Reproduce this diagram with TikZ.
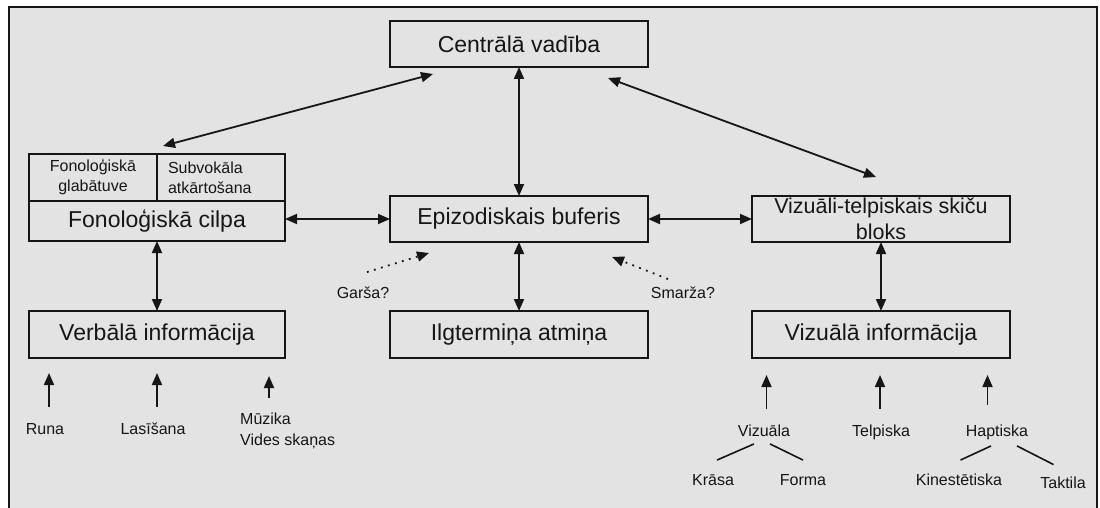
\documentclass[tikz,border=0pt]{standalone}
\usepackage{xcolor}
\usepackage{tikz}
\usepackage{fontspec}
\setmainfont{Liberation Sans}
\usetikzlibrary{
arrows.meta,
positioning
}
\definecolor{panel}{HTML}{E3E3E3}
\definecolor{ink}{HTML}{161616}

\begin{document}
\begin{tikzpicture}[
x=1pt, y=-1pt,
box/.style={
rectangle,
draw=ink,
line width=2pt,
outer sep=0pt,
minimum width=258pt,
minimum height=46pt,
text=ink,
font=\fontsize{23}{27.6}\selectfont
},
cell/.style={
rectangle,
draw=ink,
line width=2pt,
outer sep=0pt,
text width=106pt,
inner xsep=11pt,
inner ysep=0pt,
minimum height=47pt,
text=ink,
font=\fontsize{16}{20}\selectfont
},
lbl/.style={
inner sep=2pt,
text height=12pt,
text depth=3.5pt,
text=ink,
font=\fontsize{16}{20}\selectfont
},
biarrow/.style={{Triangle[length=12pt,width=10pt]}-{Triangle[length=12pt,width=10pt]},line width=1.8pt,draw=ink},
uparrow/.style={-{Triangle[length=12pt,width=10pt]},line width=1.8pt,draw=ink},
dotarrow/.style={-{Triangle[length=12pt,width=10pt]},line width=1.8pt,draw=ink,dash pattern=on 1.8pt off 5.5pt},
branch/.style={line width=1.6pt,draw=ink}
]

% panel
\useasboundingbox (0,0) rectangle (1100,508);
\fill[white] (0,0) rectangle (1100,508);
\draw[line width=2pt, draw=ink, fill=panel] (9,7) rectangle (1097,512);

% main boxes
\node[box] (central) at (519,44) {Centrālā vadība};
\node[box] (epiz) at (519,219) {Epizodiskais buferis};
\node[box, minimum height=47pt] (ilgt) at (519,334.5) {Ilgtermiņa atmiņa};

\node[box, minimum width=256pt, minimum height=40pt] (fonol) at (157,221) {Fonoloģiskā cilpa};
\node[cell, align=center, above right=0pt and 0pt of fonol.north west] (fonStore) {Fonoloģiskā\\glabātuve};
\node[cell, align=left, right=0pt of fonStore] (fonRehearse) {Subvokāla\\atkārtošana};
\node[box, minimum width=256pt, minimum height=47pt] (verbal) at (157,334.5) {Verbālā informācija};

\node[box] (sketch) at (881,219) {};
\node[text=ink, align=center, font=\fontsize{21.5}{26}\selectfont] (sketchText) at (sketch.center) {Vizuāli-telpiskais skiču\\bloks};
\node[box, minimum height=47pt] (visinfo) at (881,334.5) {Vizuālā informācija};

% links between boxes
\draw[biarrow] (central.south) -- (epiz.north);
\draw[biarrow] (epiz.south) -- (ilgt.north);
\draw[biarrow] (fonol.east |- epiz.west) -- (epiz.west);
\draw[biarrow] (epiz.east) -- (sketch.west);
\draw[biarrow] (fonol.south) -- (verbal.north);
\draw[biarrow] (sketch.south) -- (visinfo.north);
\draw[biarrow] ([shift={(43,7)}]central.south west) -- ([shift={(6,-8)}]fonRehearse.north west);
\draw[biarrow] ([shift={(-40,11)}]central.south east) -- ([shift={(-5,-19)}]sketch.north);

% other senses
\node[lbl] (garsa) at (363,294) {Garša?};
\node[lbl] (smarza) at (683,294) {Smarža?};
\draw[dotarrow] ([shift={(4,-12)}]garsa.north) -- ([shift={(39,11)}]epiz.south west);
\draw[dotarrow] ([shift={(-15,-5)}]smarza.north) -- ([shift={(-36,15)}]epiz.south east);

% verbal inputs
\node[lbl] (runa) at (45,430) {Runa};
\node[lbl] (lasisana) at (153,430) {Lasīšana};
\node[text=ink, align=left, anchor=north west, inner sep=2pt, font=\fontsize{16}{21}\selectfont] (muzika) at (238,411) {Mūzika\\Vides skaņas};
\coordinate (runaIn) at (49,373);
\coordinate (lasisanaIn) at (157,373);
\coordinate (muzikaIn) at (269,376);
\draw[uparrow, shorten <=13pt] (runa.north -| runaIn) -- (runaIn);
\draw[uparrow, shorten <=13pt] (lasisana.north -| lasisanaIn) -- (lasisanaIn);
\draw[uparrow, shorten <=13pt] (muzika.north -| muzikaIn) -- (muzikaIn);

% visual inputs
\node[lbl] (vizuala) at (764,432) {Vizuāla};
\node[lbl] (telpiska) at (881,432) {Telpiska};
\node[lbl] (haptiska) at (997,432) {Haptiska};
\node[lbl] (krasa) at (713,481) {Krāsa};
\node[lbl] (forma) at (803,481) {Forma};
\node[lbl] (kinest) at (959,481) {Kinestētiska};
\node[lbl] (taktila) at (1063,484.5) {Taktila};
\coordinate (vizualaIn) at (766.5,375);
\coordinate (telpiskaIn) at (880,375);
\coordinate (haptiskaIn) at (987.5,375);
\draw[uparrow, shorten <=13pt] (vizuala.north -| vizualaIn) -- (vizualaIn);
\draw[uparrow, shorten <=13pt] (telpiska.north -| telpiskaIn) -- (telpiskaIn);
\draw[uparrow, shorten <=17pt] (haptiska.north -| haptiskaIn) -- (haptiskaIn);

\draw[branch] ([shift={(-10,2)}]vizuala.south) -- ([shift={(4,-11)}]krasa.north);
\draw[branch] ([shift={(6,2)}]vizuala.south) -- ([shift={(0,-11)}]forma.north);
\draw[branch] ([shift={(-6,4)}]haptiska.south) -- ([shift={(1.5,-11)}]kinest.north);
\draw[branch] ([shift={(20,4)}]haptiska.south) -- ([shift={(-9.5,-10)}]taktila.north);

\end{tikzpicture}
\end{document}
